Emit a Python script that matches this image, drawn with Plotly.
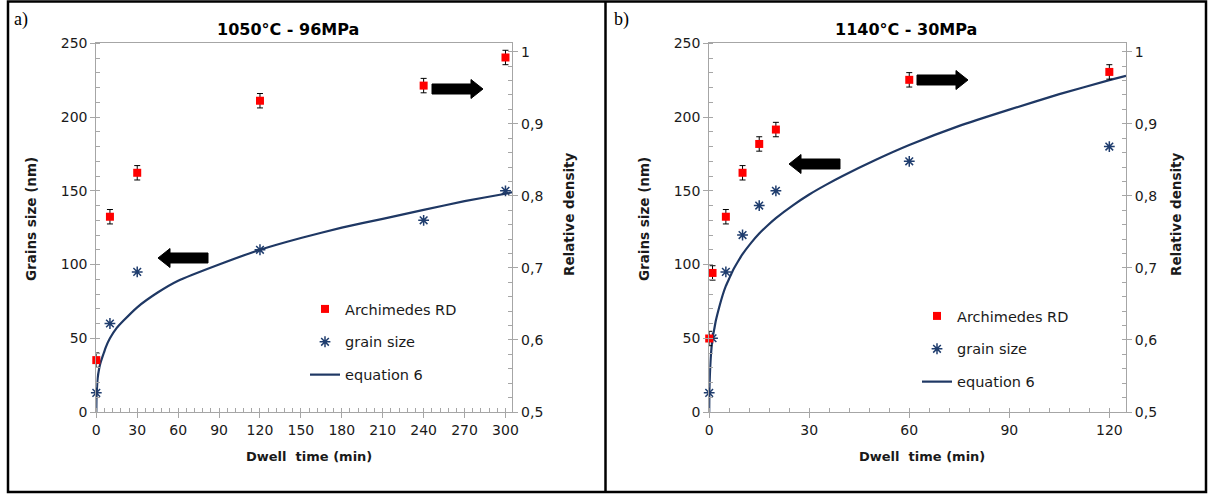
import plotly.graph_objects as go

W, H = 1208, 498

# ---------------- data: panel a) 1050°C - 96MPa ----------------
a_time_rd = [0, 10, 30, 120, 240, 300]
a_rd = [0.572, 0.771, 0.832, 0.932, 0.953, 0.992]
a_rd_err = [0.01, 0.01, 0.01, 0.01, 0.01, 0.01]
a_time_gs = [0, 10, 30, 120, 240, 300]
a_gs = [13, 60, 95, 110, 130, 150]
a_eq_t = [0, 0.1, 0.3, 0.6, 1, 2, 3, 4, 5.5, 7, 10, 15, 20, 30, 45, 60, 90, 120, 150, 180, 210, 240, 270, 300, 305]
a_eq_d = [0, 8, 13, 18, 23, 29, 33, 36, 40, 44, 50, 57, 62, 71, 81, 89, 100, 110, 118, 125, 131, 137, 143, 148, 149]

# ---------------- data: panel b) 1140°C - 30MPa ----------------
b_time_rd = [0, 1, 5, 10, 15, 20, 60, 120]
b_rd = [0.602, 0.693, 0.771, 0.832, 0.872, 0.892, 0.961, 0.972]
b_rd_err = [0.01, 0.01, 0.01, 0.01, 0.01, 0.01, 0.01, 0.01]
b_time_gs = [0, 1, 5, 10, 15, 20, 60, 120]
b_gs = [13, 50, 95, 120, 140, 150, 170, 180]
b_eq_t = [0, 0.05, 0.2, 0.5, 1, 1.5, 2, 3, 4, 5, 6, 7, 8.5, 10, 12.5, 15, 17.5, 20, 25, 30, 35, 40, 50, 60, 75, 90, 105, 120, 125]
b_eq_d = [0, 14, 25, 38, 50, 56, 62, 71, 79, 85.5, 90.5, 95.5, 101.5, 107, 114.5, 121, 126.5, 131.5, 140, 147.5, 154, 160, 171, 181, 194, 205, 215.5, 225, 228]

titles = ["1050°C - 96MPa", "1140°C - 30MPa"]
panel_labels = ["a)", "b)"]
x_title = "Dwell  time (min)"
y_title = "Grains size (nm)"
y2_title = "Relative density"
legend_names = ["Archimedes RD", "grain size", "equation 6"]

RED = "#FF0000"
NAVY = "#1F3864"
STAR = "#1F3D6E"
AXC = "#A6A6A6"
TXT = "#1a1a1a"
FONT = "DejaVu Sans"


def px(x):
    return x / W


def py(y):
    return 1 - y / H


fig = go.Figure()

panels = [
    dict(t_rd=a_time_rd, rd=a_rd, err=a_rd_err, t_gs=a_time_gs, gs=a_gs, eq_t=a_eq_t, eq_d=a_eq_d,
         xa="x", ya="y", yb="y2", legend="legend"),
    dict(t_rd=b_time_rd, rd=b_rd, err=b_rd_err, t_gs=b_time_gs, gs=b_gs, eq_t=b_eq_t, eq_d=b_eq_d,
         xa="x2", ya="y3", yb="y4", legend="legend2"),
]

for p in panels:
    fig.add_trace(go.Scatter(
        x=p["t_rd"], y=p["rd"], mode="markers", name=legend_names[0], cliponaxis=False,
        marker=dict(symbol="square", size=8, color=RED),
        error_y=dict(type="data", array=p["err"], color="#000000", thickness=1, width=3),
        xaxis=p["xa"], yaxis=p["yb"], legend=p["legend"], legendgroup="rd" + p["legend"]))
    fig.add_trace(go.Scatter(
        x=p["t_gs"], y=p["gs"], mode="markers", name=legend_names[1], cliponaxis=False,
        marker=dict(symbol="asterisk-open", size=9, color=STAR, line=dict(color=STAR, width=1.5)),
        xaxis=p["xa"], yaxis=p["ya"], legend=p["legend"], legendgroup="gs" + p["legend"]))
    fig.add_trace(go.Scatter(
        x=p["eq_t"], y=p["eq_d"], mode="lines", name=legend_names[2],
        line=dict(color=NAVY, width=2.2, shape="spline", smoothing=0.5),
        xaxis=p["xa"], yaxis=p["ya"], legend=p["legend"], legendgroup="eq" + p["legend"]))

ydom = [py(412), py(43.3)]
xdom_a = [px(96.3), px(512.3)]
xdom_b = [px(709.2), px(1126)]

tickfont = dict(family=FONT, size=14, color=TXT)


def xaxis_cfg(dom, rng, anchor):
    return dict(domain=dom, range=rng, anchor=anchor, showgrid=False, zeroline=False,
                showline=True, linecolor=AXC, linewidth=1, mirror=True,
                tick0=0, dtick=30, ticks="outside", ticklen=5, tickcolor=AXC,
                minor=dict(dtick=6, ticks="inside", ticklen=4, tickcolor=AXC),
                tickfont=tickfont, automargin=False, fixedrange=True)


def yleft_cfg(anchor):
    return dict(domain=ydom, range=[0, 250], anchor=anchor, showgrid=False, zeroline=False,
                showline=True, linecolor=AXC, linewidth=1,
                tick0=0, dtick=50, ticks="outside", ticklen=5, tickcolor=AXC,
                minor=dict(dtick=10, ticks="inside", ticklen=4, tickcolor=AXC),
                tickfont=tickfont, automargin=False)


def yright_cfg(anchor, overlay):
    return dict(range=[0.5, 1.0117], anchor=anchor, overlaying=overlay, side="right",
                showgrid=False, zeroline=False, showline=True, linecolor=AXC, linewidth=1,
                tick0=0.5, dtick=0.1, ticks="outside", ticklen=5, tickcolor=AXC,
                minor=dict(dtick=0.02, ticks="inside", ticklen=4, tickcolor=AXC),
                tickfont=tickfont, automargin=False)


def legend_cfg(xpix, ypix):
    return dict(x=px(xpix), y=py(ypix), xanchor="left", yanchor="top",
                bgcolor="rgba(0,0,0,0)", font=dict(family=FONT, size=14.5, color=TXT),
                tracegroupgap=11, itemwidth=30, traceorder="grouped")


fig.update_layout(
    width=W, height=H, margin=dict(l=0, r=0, t=0, b=0),
    paper_bgcolor="white", plot_bgcolor="white", separators=",.",
    xaxis=xaxis_cfg(xdom_a, [0, 305], "y"),
    yaxis=yleft_cfg("x"),
    yaxis2=yright_cfg("x", "y"),
    xaxis2=xaxis_cfg(xdom_b, [0, 125], "y3"),
    yaxis3=yleft_cfg("x2"),
    yaxis4=yright_cfg("x2", "y3"),
    legend=legend_cfg(305, 293),
    legend2=legend_cfg(917, 300),
    showlegend=True,
)

annotations = []
for lab, xp in zip(panel_labels, [12, 612]):
    annotations.append(dict(text=lab, x=px(xp), y=py(19), xref="paper", yref="paper",
                            xanchor="left", yanchor="middle", showarrow=False,
                            font=dict(family="Liberation Serif", size=18, color="#000")))
for t, xc in zip(titles, [288, 906]):
    annotations.append(dict(text="<b>" + t + "</b>", x=px(xc), y=py(29), xref="paper", yref="paper",
                            xanchor="center", yanchor="middle", showarrow=False,
                            font=dict(family=FONT, size=16, color="#000")))
for xc in [309, 922]:
    annotations.append(dict(text="<b>" + x_title + "</b>", x=px(xc), y=py(456), xref="paper", yref="paper",
                            xanchor="center", yanchor="middle", showarrow=False,
                            font=dict(family=FONT, size=13, color=TXT)))
for xc in [31, 644]:
    annotations.append(dict(text="<b>" + y_title + "</b>", x=px(xc), y=py(219), xref="paper", yref="paper",
                            xanchor="center", yanchor="middle", showarrow=False, textangle=-90,
                            font=dict(family=FONT, size=13.5, color=TXT)))
for xc in [569, 1176]:
    annotations.append(dict(text="<b>" + y2_title + "</b>", x=px(xc), y=py(214), xref="paper", yref="paper",
                            xanchor="center", yanchor="middle", showarrow=False, textangle=-90,
                            font=dict(family=FONT, size=13.5, color=TXT)))
fig.update_layout(annotations=annotations)


def arrow(x_tail, x_tip, yc, shaft=5, head=9.5, head_len=12):
    d = 1 if x_tip > x_tail else -1
    xb = x_tip - d * head_len
    pts = [(x_tail, yc - shaft), (xb, yc - shaft), (xb, yc - head), (x_tip, yc),
           (xb, yc + head), (xb, yc + shaft), (x_tail, yc + shaft)]
    path = "M " + " L ".join(f"{px(a):.5f},{py(b):.5f}" for a, b in pts) + " Z"
    return dict(type="path", path=path, xref="paper", yref="paper",
                fillcolor="#000", line=dict(color="#000", width=1))


shapes = [
    arrow(432, 483, 89), arrow(208, 158, 258),
    arrow(917, 968, 80), arrow(840, 789, 164),
    dict(type="rect", xref="paper", yref="paper", x0=px(8), x1=px(1206), y0=py(492), y1=py(1.5),
         line=dict(color="#000", width=2.5)),
    dict(type="line", xref="paper", yref="paper", x0=px(605.5), x1=px(605.5), y0=py(492), y1=py(1.5),
         line=dict(color="#000", width=2.5)),
]
fig.update_layout(shapes=shapes)

fig.write_html("out.html", config={"displayModeBar": False},
               post_script="document.body.style.margin='0';")
